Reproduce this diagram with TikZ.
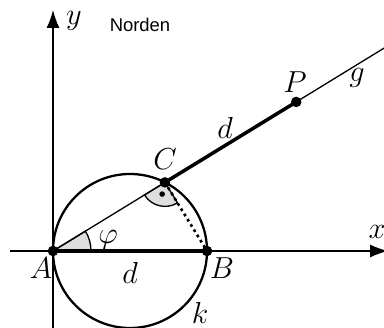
\documentclass[tikz,border=0pt]{standalone}
\usepackage{fontspec}
\newfontfamily\nordfont{Liberation Sans}
\usetikzlibrary{arrows.meta, calc}
\colorlet{colLinie}{black}
\colorlet{colWinkel}{black!13}
\tikzset{
  achse/.style={line width=0.7pt, colLinie, -{Latex[length=3.6mm, width=2.6mm]}},
  linieDuenn/.style={line width=0.75pt, colLinie},
  linieDick/.style={line width=2pt, colLinie},
  kreisLinie/.style={line width=1.3pt, colLinie},
  punkt/.style={circle, fill=colLinie, minimum size=6pt, inner sep=0pt},
  beschriftung/.style={font=\fontsize{16}{19}\selectfont, inner sep=0pt},
  winkelFlaeche/.style={fill=colWinkel, draw=colLinie, line width=0.75pt},
}
\begin{document}
\begin{tikzpicture}[x=0.02cm, y=0.02cm]
    \useasboundingbox (0,0) rectangle (384,327);
    \def\dlen{154}
    \def\phiw{31.5}
    % Punkte
    \coordinate (A) at (53,76);
    \coordinate (B) at ($(A)+(\dlen,0)$);
    \coordinate (M) at ($(A)!0.5!(B)$);
    \coordinate (C) at ($(A)+(\phiw:{\dlen*cos(\phiw)})$);
    \coordinate (P) at ($(C)+(\phiw:\dlen)$);
    \coordinate (G) at ($(A)+(\phiw:420)$);
    \coordinate (xl) at (10,76);
    \coordinate (xr) at (388,76);
    \coordinate (yu) at (53,-5);
    \coordinate (yo) at (53,317);

    % Winkel
    \begin{scope}
      \clip (0,0) rectangle (384,327);
      \filldraw[winkelFlaeche] (A) -- ++(0:38) arc[start angle=0, end angle=\phiw, radius=38] -- cycle;
      \filldraw[winkelFlaeche] (C) -- ++(180+\phiw:24) arc[start angle=180+\phiw, end angle=270+\phiw, radius=24] -- cycle;
      \draw[linieDuenn] (A) -- (G);
    \end{scope}
    \node[circle, fill=colLinie, minimum size=3.2pt, inner sep=0pt] (rw) at ($(C)+(225+\phiw:12)$) {};

    % Achsen
    \draw[achse] (xl) -- (xr);
    \draw[achse] (yu) -- (yo);

    % Kreis und Strecken
    \draw[kreisLinie] (M) circle[radius=\dlen/2];
    \draw[linieDick] (A) -- (B);
    \draw[linieDick] (C) -- (P);
    \draw[line width=1.5pt, dotted, colLinie] (C) -- (B);

    \node[punkt] (pA) at (A) {};
    \node[punkt] (pB) at (B) {};
    \node[punkt] (pC) at (C) {};
    \node[punkt] (pP) at (P) {};

    % Beschriftungen
    \node[beschriftung] (lA) at (41,59) {$A$};
    \node[beschriftung] (lB) at (222,59) {$B$};
    \node[beschriftung] (lC) at (165,168) {$C$};
    \node[beschriftung] (lP) at (295,245) {$P$};
    \node[beschriftung] (lg) at (357,249) {$g$};
    \node[beschriftung] (lk) at (200,14) {$k$};
    \node[beschriftung] (ld1) at (130,54) {$d$};
    \node[beschriftung] (ld2) at (225,199) {$d$};
    \node[beschriftung] (lphi) at (108,87) {$\varphi$};
    \node[beschriftung] (lx) at (377,95) {$x$};
    \node[beschriftung] (ly) at (74,306) {$y$};
    \node[font=\nordfont\fontsize{10.5}{12}\selectfont, inner sep=0pt] (lN) at (140,302) {Norden};
\end{tikzpicture}
\end{document}
